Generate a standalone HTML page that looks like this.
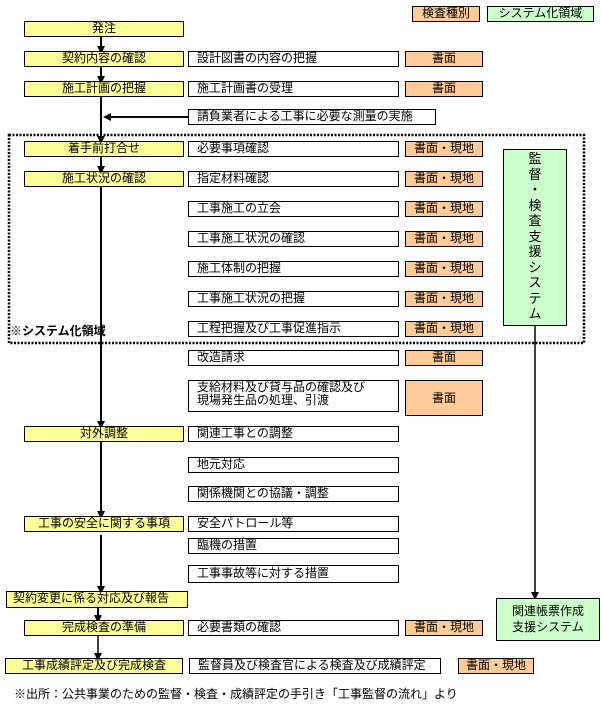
<!DOCTYPE html>
<html><head><meta charset="utf-8"><style>
body{margin:0;background:#fff;width:602px;height:705px;position:relative;overflow:hidden;font-family:"Liberation Sans","Noto Sans CJK JP",sans-serif;font-size:12px;color:#000}
.b{position:absolute;box-sizing:border-box;border:1px solid #000;line-height:13px;white-space:nowrap}
.y{background:#ffff99;text-align:center}
.w{background:#fff;padding-left:8px}
.o{background:#ffcc99;text-align:center}
.g{background:#ccffcc;text-align:center}
.t{position:absolute;white-space:nowrap}
</style></head><body>
<svg width="602" height="705" style="position:absolute;left:0;top:0">
<defs><marker id="a" markerWidth="8" markerHeight="8" refX="4" refY="4" orient="auto" markerUnits="userSpaceOnUse"><path d="M0,0 L8,4 L0,8 z" fill="#000"/></marker></defs>
<g stroke="#000" stroke-width="2" fill="none">
<line x1="101" y1="36" x2="101" y2="50" marker-end="url(#a)"/>
<line x1="101" y1="66" x2="101" y2="80" marker-end="url(#a)"/>
<line x1="101" y1="96" x2="101" y2="140" marker-end="url(#a)"/>
<line x1="188" y1="117" x2="107" y2="117" marker-end="url(#a)"/>
<line x1="101" y1="156" x2="101" y2="170" marker-end="url(#a)"/>
<line x1="101" y1="186" x2="101" y2="425" marker-end="url(#a)"/>
<line x1="101" y1="441" x2="101" y2="515" marker-end="url(#a)"/>
<line x1="101" y1="535" x2="101" y2="590" marker-end="url(#a)"/>
<line x1="98" y1="607" x2="98" y2="619" marker-end="url(#a)"/>
<line x1="98" y1="636" x2="98" y2="657" stroke-width="1.5" marker-end="url(#a)"/>
<line x1="535" y1="326" x2="535" y2="596" stroke-width="1.5" marker-end="url(#a)"/>
<rect x="9" y="135" width="575" height="208" stroke-width="2.5" stroke-dasharray="2,1.5"/>
</g></svg>
<div class="b o" style="left:412px;top:6px;width:68px;height:16px">検査種別</div>
<div class="b g" style="left:487px;top:6px;width:107px;height:16px">システム化領域</div>

<div class="b y" style="left:24px;top:21px;width:160px;height:16px">発注</div>
<div class="b y" style="left:24px;top:51px;width:160px;height:16px">契約内容の確認</div>
<div class="b y" style="left:24px;top:81px;width:160px;height:16px">施工計画の把握</div>
<div class="b y" style="left:24px;top:141px;width:160px;height:16px">着手前打合せ</div>
<div class="b y" style="left:24px;top:171px;width:160px;height:16px">施工状況の確認</div>
<div class="b y" style="left:24px;top:426px;width:160px;height:16px">対外調整</div>
<div class="b y" style="left:24px;top:516px;width:160px;height:16px">工事の安全に関する事項</div>
<div class="b y" style="left:6px;top:591px;width:182px;height:17px;text-align:left;padding-left:6px">契約変更に係る対応及び報告</div>
<div class="b y" style="left:24px;top:620px;width:160px;height:16px">完成検査の準備</div>
<div class="b y" style="left:5px;top:658px;width:178px;height:16px">工事成績評定及び完成検査</div>

<div class="b w" style="left:188px;top:51px;width:211px;height:16px">設計図書の内容の把握</div>
<div class="b w" style="left:188px;top:81px;width:211px;height:16px">施工計画書の受理</div>
<div class="b w" style="left:188px;top:109px;width:248px;height:16px">請負業者による工事に必要な測量の実施</div>
<div class="b w" style="left:188px;top:141px;width:211px;height:16px">必要事項確認</div>
<div class="b w" style="left:188px;top:171px;width:211px;height:16px">指定材料確認</div>
<div class="b w" style="left:188px;top:201px;width:211px;height:16px">工事施工の立会</div>
<div class="b w" style="left:188px;top:231px;width:211px;height:16px">工事施工状況の確認</div>
<div class="b w" style="left:188px;top:261px;width:211px;height:16px">施工体制の把握</div>
<div class="b w" style="left:188px;top:291px;width:211px;height:16px">工事施工状況の把握</div>
<div class="b w" style="left:188px;top:321px;width:211px;height:16px">工程把握及び工事促進指示</div>
<div class="b w" style="left:188px;top:350px;width:211px;height:16px">改造請求</div>
<div class="b w" style="left:188px;top:380px;width:211px;height:32px">支給材料及び貸与品の確認及び<br>現場発生品の処理、引渡</div>
<div class="b w" style="left:188px;top:426px;width:211px;height:16px">関連工事との調整</div>
<div class="b w" style="left:188px;top:457px;width:211px;height:16px">地元対応</div>
<div class="b w" style="left:188px;top:486px;width:211px;height:16px">関係機関との協議・調整</div>
<div class="b w" style="left:188px;top:516px;width:211px;height:16px">安全パトロール等</div>
<div class="b w" style="left:188px;top:538px;width:211px;height:16px">臨機の措置</div>
<div class="b w" style="left:188px;top:565px;width:211px;height:18px;padding-top:1px">工事事故等に対する措置</div>
<div class="b w" style="left:188px;top:620px;width:211px;height:16px">必要書類の確認</div>
<div class="b w" style="left:189px;top:658px;width:252px;height:16px">監督員及び検査官による検査及び成績評定</div>

<div class="b o" style="left:405px;top:51px;width:78px;height:16px">書面</div>
<div class="b o" style="left:405px;top:81px;width:78px;height:16px">書面</div>
<div class="b o" style="left:405px;top:141px;width:78px;height:16px">書面・現地</div>
<div class="b o" style="left:405px;top:171px;width:78px;height:16px">書面・現地</div>
<div class="b o" style="left:405px;top:201px;width:78px;height:16px">書面・現地</div>
<div class="b o" style="left:405px;top:231px;width:78px;height:16px">書面・現地</div>
<div class="b o" style="left:405px;top:261px;width:78px;height:16px">書面・現地</div>
<div class="b o" style="left:405px;top:291px;width:78px;height:16px">書面・現地</div>
<div class="b o" style="left:405px;top:321px;width:78px;height:16px">書面・現地</div>
<div class="b o" style="left:405px;top:350px;width:78px;height:16px">書面</div>
<div class="b o" style="left:405px;top:380px;width:78px;height:36px;line-height:34px">書面</div>
<div class="b o" style="left:405px;top:620px;width:78px;height:16px">書面・現地</div>
<div class="b o" style="left:458px;top:658px;width:76px;height:16px">書面・現地</div>

<div class="b g" style="left:503px;top:149px;width:64px;height:177px;line-height:15.5px;padding-top:1px;font-size:13px">監<br>督<br>・<br>検<br>査<br>支<br>援<br>シ<br>ス<br>テ<br>ム</div>
<div class="b g" style="left:496px;top:598px;width:104px;height:43px;line-height:16px;padding-top:4px">関連帳票作成<br>支援システム</div>

<div class="t" style="left:10px;top:322px;font-weight:bold">※システム化領域</div>
<div class="t" style="left:14px;top:685px">※出所：公共事業のための監督・検査・成績評定の手引き「工事監督の流れ」より</div>
</body></html>
